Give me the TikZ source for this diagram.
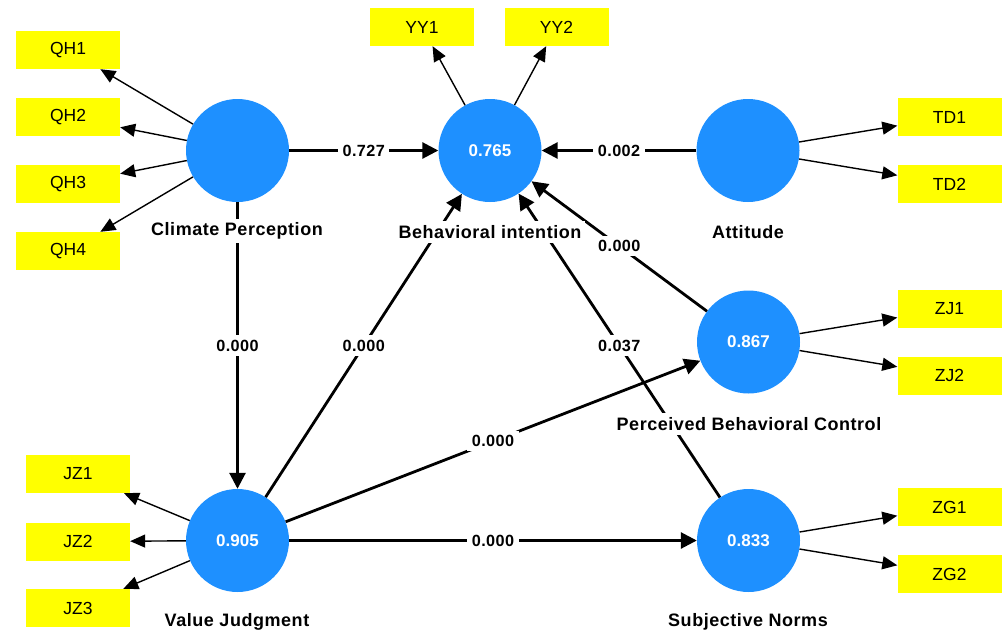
\documentclass[tikz,border=0pt]{standalone}
\usepackage{fontspec}
\setmainfont{Liberation Sans}
\newfontfamily\namefont[LetterSpace=3]{Liberation Sans}
\newfontfamily\coeffont[LetterSpace=3]{Liberation Sans}
\usetikzlibrary{arrows.meta}
\definecolor{lvblue}{RGB}{30,144,255}
\definecolor{mvyellow}{RGB}{255,255,0}
\begin{document}
\begin{tikzpicture}[x=1pt,y=-1pt,
  latent/.style={circle,fill=lvblue,minimum size=103pt,inner sep=0pt,text=white,font=\fontsize{17}{20}\selectfont\bfseries},
  indicator/.style={rectangle,fill=mvyellow,minimum width=104pt,minimum height=38pt,inner sep=0pt,font=\fontsize{17.5}{20}\selectfont},
  lvname/.style={fill=white,inner sep=4pt,font=\namefont\fontsize{18}{21}\selectfont\bfseries},
  structpath/.style={line width=2.8pt,-{Triangle[length=16pt,width=16pt]}},
  loading/.style={line width=1.4pt,-{Triangle[length=15pt,width=13pt]}},
  coef/.style={fill=white,inner sep=4.5pt,font=\coeffont\fontsize{16.2}{19}\selectfont\bfseries}]
\useasboundingbox (0,0) rectangle (1003,632);
% latent variables
\node[latent] (CP) at (237.5,150.5) {};
\node[latent] (BI) at (490,150.5) {0.765};
\node[latent] (AT) at (748,150.5) {};
\node[latent] (PBC) at (748.5,342) {0.867};
\node[latent] (VJ) at (237.5,540.5) {0.905};
\node[latent] (SN) at (748.5,540.5) {0.833};
% indicators
\node[indicator] (QH1) at (68,50) {QH1};
\node[indicator] (QH2) at (68,117) {QH2};
\node[indicator] (QH3) at (68,184) {QH3};
\node[indicator] (QH4) at (68,251) {QH4};
\node[indicator] (YY1) at (422,27) {YY1};
\node[indicator] (YY2) at (556.5,27) {YY2};
\node[indicator] (TD1) at (949.5,117) {TD1};
\node[indicator] (TD2) at (949.5,184) {TD2};
\node[indicator] (ZJ1) at (949.5,309) {ZJ1};
\node[indicator] (ZJ2) at (949.5,375.5) {ZJ2};
\node[indicator] (ZG1) at (949.5,507) {ZG1};
\node[indicator] (ZG2) at (949.5,574) {ZG2};
\node[indicator] (JZ1) at (78,474) {JZ1};
\node[indicator] (JZ2) at (78,541.5) {JZ2};
\node[indicator] (JZ3) at (78,608) {JZ3};
% loadings
\foreach \i in {QH1,QH2,QH3,QH4} \draw[loading] (CP) -- (\i);
\foreach \i in {YY1,YY2} \draw[loading] (BI) -- (\i);
\foreach \i in {TD1,TD2} \draw[loading] (AT) -- (\i);
\foreach \i in {ZJ1,ZJ2} \draw[loading] (PBC) -- (\i);
\foreach \i in {ZG1,ZG2} \draw[loading] (SN) -- (\i);
\foreach \i in {JZ1,JZ2,JZ3} \draw[loading] (VJ) -- (\i);
% structural paths
\draw[structpath] (CP) -- node[coef]{0.727} (BI);
\draw[structpath] (AT) -- node[coef]{0.002} (BI);
\draw[structpath] (CP) -- node[coef]{0.000} (VJ);
\draw[structpath] (VJ) -- node[coef]{0.000} (BI);
\draw[structpath] (SN) -- node[coef]{0.037} (BI);
\draw[structpath] (PBC) -- node[coef]{0.000} (BI);
\draw[structpath] (VJ) -- node[coef]{0.000} (PBC);
\draw[structpath] (VJ) -- node[coef]{0.000} (SN);
% names
\node[lvname] (CPn) at (237,231) {Climate Perception};
\node[lvname] (BIn) at (490,232) {Behavioral intention};
\node[lvname] (ATn) at (748,232) {Attitude};
\node[lvname] (PBCn) at (749,424) {Perceived Behavioral Control};
\node[lvname] (VJn) at (237,622) {Value Judgment};
\node[lvname] (SNn) at (748,622) {Subjective Norms};
\end{tikzpicture}
\end{document}
